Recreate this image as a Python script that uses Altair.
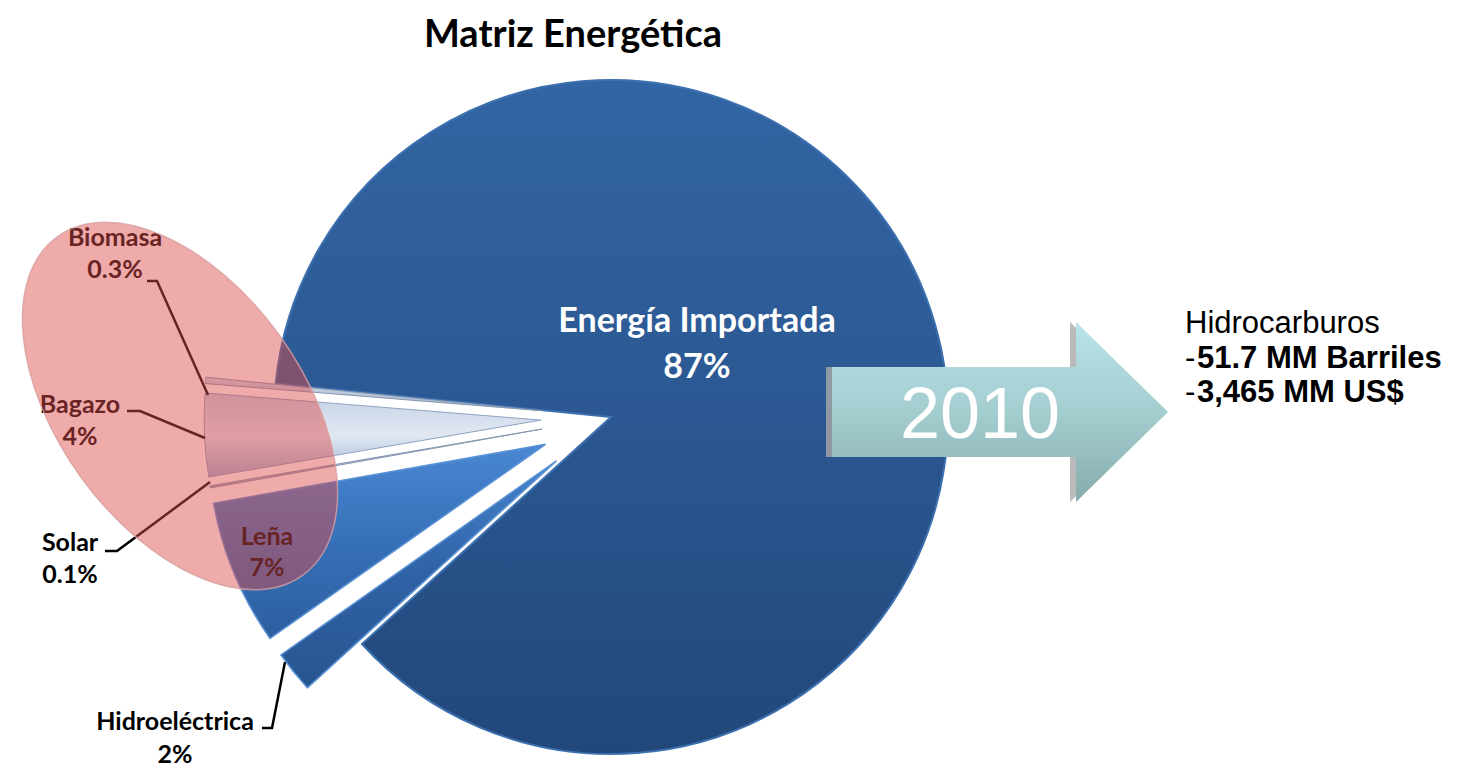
import math
import altair as alt
import pandas as pd

# ---------------- data ----------------
categories = ["Energía Importada", "Hidroeléctrica", "Leña", "Solar", "Bagazo", "Biomasa"]
shares = [87, 2, 7, 0.1, 4, 0.3]
pct_labels = ["87%", "2%", "7%", "0.1%", "4%", "0.3%"]

title_text = "Matriz Energética"
year_text = "2010"
side_head = "Hidrocarburos"
side_items = ["51.7 MM Barriles", "3,465 MM US$"]

# ---------------- layout / style (page pixels) ----------------
M = 8
W, H = 1442, 759
PIE_CX, PIE_CY, PIE_R = 611, 417, 337
START_DEG = 275.7
explode = [0, 70, 71, 70, 70, 70]
label_x = [697, 175, 267, 70, 80, 115]
label_y1 = [322, 722, 537, 543, 405, 238]
label_y2 = [368, 755, 568, 575, 437, 270]
label_color = ["white", "black", "black", "black", "black", "black"]
label_size = [34, 25, 25, 25, 25, 25]

leaders = {
    "Biomasa": [(147, 281), (157, 281), (208, 395)],
    "Bagazo": [(127, 411), (140, 411), (205, 438)],
    "Solar": [(105, 551), (117, 551), (210, 482)],
    "Hidroeléctrica": [(262, 728), (272, 728), (285, 662)],
}

slice_fill = {
    "Energía Importada": ["#3265A4", "#2B5892", "#22477A"],
    "Hidroeléctrica": ["#4682CC", "#2F62A6", "#27558F"],
    "Leña": ["#4A88D2", "#3670B8", "#2C5E9F"],
    "Solar": ["#D5DEEB", "#9DB0CC"],
    "Bagazo": ["#C4D1E4", "#E1E8F2", "#9FB4D3"],
    "Biomasa": ["#D5DEEB", "#9DB0CC"],
}
slice_stroke = {
    "Energía Importada": ("#3C70B0", 2),
    "Hidroeléctrica": ("#5A92D6", 1.5),
    "Leña": ("#5A92D6", 1.5),
    "Solar": ("#8596B0", 1),
    "Bagazo": ("#8FA3C2", 1),
    "Biomasa": ("#8596B0", 1),
}

# ---------------- derived table ----------------
total = sum(shares)
rows = []
acc = 0.0
for i, (c, v) in enumerate(zip(categories, shares)):
    t0, t1 = acc, acc + v
    acc = t1
    mid = math.radians(START_DEG + (t0 + t1) / 2 / total * 360)
    rows.append({
        "cat": c, "value": v, "t0": t0, "t1": t1,
        "cx": PIE_CX - M + explode[i] * math.sin(mid),
        "cy": PIE_CY - M - explode[i] * math.cos(mid),
    })
pie_df = pd.DataFrame(rows)

lab_df = pd.DataFrame({
    "name": categories, "pct": pct_labels,
    "x": [v - M for v in label_x],
    "y1": [v - M for v in label_y1],
    "y2": [v - M for v in label_y2],
    "tc": label_color, "fs": label_size,
})

lead_rows = []
for name, pts in leaders.items():
    for j, (px, py) in enumerate(pts):
        lead_rows.append({"name": name, "i": j, "x": px - M, "y": py - M})
lead_df = pd.DataFrame(lead_rows)

one = pd.DataFrame({"k": [0]})


def grad(colors, horizontal=False):
    n = len(colors)
    stops = [alt.GradientStop(color=c, offset=k / (n - 1)) for k, c in enumerate(colors)]
    if horizontal:
        return alt.LinearGradient(gradient="linear", stops=stops, x1=0, x2=1, y1=0, y2=0)
    return alt.LinearGradient(gradient="linear", stops=stops, x1=0, x2=0, y1=0, y2=1)


a0 = math.radians(START_DEG)
theta_scale = alt.Scale(domain=[0, total], range=[a0, a0 + 2 * math.pi])

layers = []
for c in categories:
    sc, sw = slice_stroke[c]
    layers.append(
        alt.Chart(pie_df).transform_filter(alt.datum.cat == c)
        .mark_arc(outerRadius=PIE_R, fill=grad(slice_fill[c]), stroke=sc, strokeWidth=sw)
        .encode(
            theta=alt.Theta("t0:Q", scale=theta_scale, stack=None),
            theta2="t1:Q",
            x=alt.X("cx:Q", scale=None, axis=None),
            y=alt.Y("cy:Q", scale=None, axis=None),
        )
    )

# leader lines
layers.append(
    alt.Chart(lead_df).mark_line(color="black", strokeWidth=2.5)
    .encode(x=alt.X("x:Q", scale=None, axis=None), y=alt.Y("y:Q", scale=None, axis=None),
            detail="name:N", order="i:Q")
)

# slice labels (below the ellipse overlay)
base_lab = alt.Chart(lab_df)
layers.append(
    base_lab.mark_text(font="Lato", fontWeight="bold", baseline="middle", align="center")
    .encode(x=alt.X("x:Q", scale=None, axis=None), y=alt.Y("y1:Q", scale=None, axis=None),
            text="name:N", color=alt.Color("tc:N", scale=None), size=alt.Size("fs:Q", scale=None))
)
layers.append(
    base_lab.mark_text(font="Lato", fontWeight="bold", baseline="middle", align="center")
    .encode(x=alt.X("x:Q", scale=None, axis=None), y=alt.Y("y2:Q", scale=None, axis=None),
            text="pct:N", color=alt.Color("tc:N", scale=None), size=alt.Size("fs:Q", scale=None))
)


# highlight ellipse (custom symbol path)
def ellipse_path(A, B, theta_deg):
    th = math.radians(theta_deg)
    u = (math.cos(th), math.sin(th))
    v = (-math.sin(th), math.cos(th))
    k = 0.5523

    def P(t):
        return (A * math.cos(t) * u[0] + B * math.sin(t) * v[0],
                A * math.cos(t) * u[1] + B * math.sin(t) * v[1])

    def D(t):
        return (-A * math.sin(t) * u[0] + B * math.cos(t) * v[0],
                -A * math.sin(t) * u[1] + B * math.cos(t) * v[1])

    ts = [0, math.pi / 2, math.pi, 3 * math.pi / 2, 2 * math.pi]
    p0 = P(0)
    s = f"M{p0[0]:.4f},{p0[1]:.4f}"
    for i in range(4):
        ta, tb = ts[i], ts[i + 1]
        pa, pb, da, db = P(ta), P(tb), D(ta), D(tb)
        c1 = (pa[0] + k * da[0], pa[1] + k * da[1])
        c2 = (pb[0] - k * db[0], pb[1] - k * db[1])
        s += f" C{c1[0]:.4f},{c1[1]:.4f} {c2[0]:.4f},{c2[1]:.4f} {pb[0]:.4f},{pb[1]:.4f}"
    return s + " Z"


ELL_CX, ELL_CY, ELL_A, ELL_B, ELL_ROT = 180, 406, 209, 122, 54
ell_shape = ellipse_path(1, ELL_B / ELL_A, ELL_ROT)
layers.append(
    alt.Chart(one).mark_point(shape=ell_shape, size=(2 * ELL_A) ** 2,
                              filled=True, fill="#DC4B4B", fillOpacity=0.47,
                              stroke="#D8A0A0", strokeWidth=1.5, strokeOpacity=0.8, opacity=1)
    .encode(x=alt.value(ELL_CX - M), y=alt.value(ELL_CY - M))
)

# arrow
AR_X0, AR_X1, AR_YC = 832, 1168, 412
AR_HALF_BODY, AR_HALF_HEAD, AR_HEAD_BASE = 45, 90, 1076
hw = (AR_X1 - AR_X0) / 2
acx = (AR_X0 + AR_X1) / 2
bx = (AR_HEAD_BASE - acx) / hw
hb = AR_HALF_BODY / hw
hh = AR_HALF_HEAD / hw
arrow_path = (f"M-1,{-hb:.4f} L{bx:.4f},{-hb:.4f} L{bx:.4f},{-hh:.4f} L1,0 "
              f"L{bx:.4f},{hh:.4f} L{bx:.4f},{hb:.4f} L-1,{hb:.4f} Z")
layers.append(
    alt.Chart(one).mark_point(shape=arrow_path, size=(2 * hw) ** 2, filled=True,
                              fill="#A9A9A9", fillOpacity=0.8, strokeWidth=0, opacity=1)
    .encode(x=alt.value(acx - M - 6), y=alt.value(AR_YC - M))
)
layers.append(
    alt.Chart(one).mark_point(shape=arrow_path, size=(2 * hw) ** 2, filled=True,
                              fill=grad(["#B8E3E7", "#A4CDD0", "#86ACAC"]), fillOpacity=1,
                              strokeWidth=0, opacity=1)
    .encode(x=alt.value(acx - M), y=alt.value(AR_YC - M))
)
layers.append(
    alt.Chart(one).mark_text(text=year_text, font="Liberation Sans", fontSize=72, color="white",
                             align="center", baseline="middle")
    .encode(x=alt.value(980 - M), y=alt.value(416 - M))
)

# side text
SIDE_X, SIDE_BOLD_X = 1185, 1197
side_y = [324, 359, 393]
layers.append(
    alt.Chart(one).mark_text(text=side_head, font="Liberation Sans", fontSize=31, color="black",
                             align="left", baseline="middle")
    .encode(x=alt.value(SIDE_X - M), y=alt.value(side_y[0] - M))
)
for j, item in enumerate(side_items):
    layers.append(
        alt.Chart(one).mark_text(text="-", font="Liberation Sans", fontSize=31, color="black",
                                 align="left", baseline="middle")
        .encode(x=alt.value(SIDE_X - M), y=alt.value(side_y[j + 1] - M))
    )
    layers.append(
        alt.Chart(one).mark_text(text=item, font="Liberation Sans", fontSize=31, fontWeight="bold",
                                 color="black", align="left", baseline="middle")
        .encode(x=alt.value(SIDE_BOLD_X - M), y=alt.value(side_y[j + 1] - M))
    )

# title
layers.append(
    alt.Chart(one).mark_text(text=title_text, font="Lato", fontSize=38, fontWeight="bold",
                             color="black", align="center", baseline="middle")
    .encode(x=alt.value(573 - M), y=alt.value(36 - M))
)

chart = alt.layer(*layers).properties(
    width=W, height=H, padding=0,
    autosize=alt.AutoSizeParams(type="none"),
    background="white",
).configure_view(stroke=None)

chart.save("out.html", embed_options={"renderer": "svg", "actions": False})
